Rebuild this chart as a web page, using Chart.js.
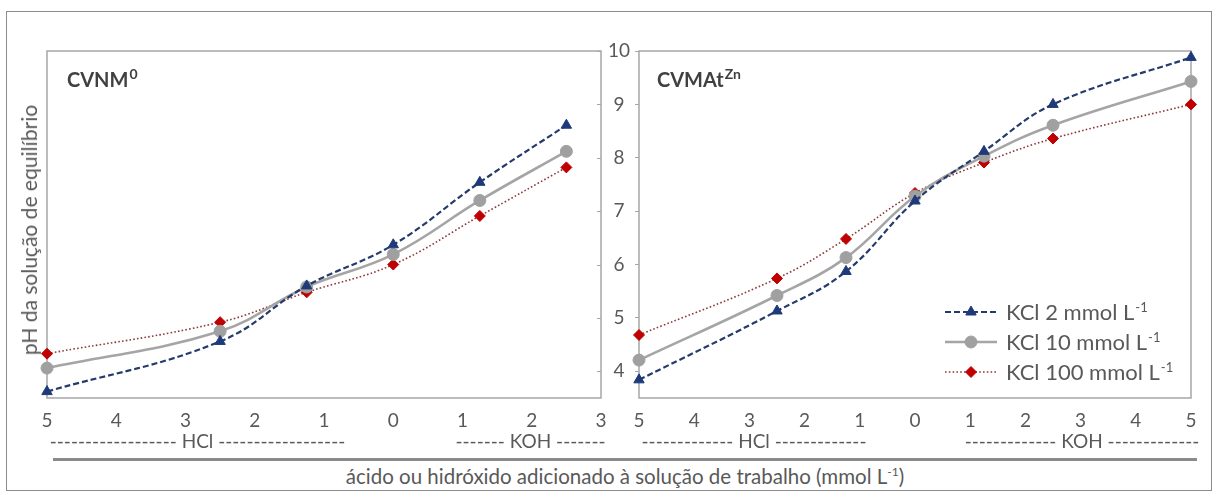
<!DOCTYPE html>
<html><head><meta charset="utf-8">
<script src="https://cdn.jsdelivr.net/npm/chart.js@4.4.1/dist/chart.umd.min.js"></script>
<style>
html,body{margin:0;padding:0;background:#fff;width:1219px;height:496px;overflow:hidden;font-family:Lato,'Open Sans',sans-serif;color:#595959}
#frame{position:absolute;left:6px;top:11px;width:1206px;height:480px;border:1.5px solid #8c8c8c;box-sizing:border-box}
canvas{position:absolute;top:0}
#cL{left:0}
#cR{left:600px}
.t{position:absolute;white-space:nowrap;color:#595959;line-height:22px}
.ttl{position:absolute;white-space:nowrap;font-weight:700;font-size:20px;line-height:20px;color:#404040}
.ttl sup{font-size:14px;vertical-align:baseline;position:relative;top:-8px;margin-left:1px}
.sup{font-size:12px;vertical-align:baseline;position:relative;top:-8px}
#sep{position:absolute;left:53px;top:458px;width:1144px;height:3px;background:#8a8a8a}
</style></head>
<body>
<div id="frame"></div>
<canvas id="cL" width="640" height="440"></canvas>
<canvas id="cR" width="619" height="440"></canvas>
<div class="ttl" style="left:67px;top:69px">CVNM<sup>0</sup></div>
<div class="ttl" style="left:657px;top:69px">CVMAt<sup>Zn</sup></div>
<div class="t" id="ytitle" style="left:29px;top:230px;font-size:21px;transform:translate(-50%,-50%) rotate(-90deg)">pH da solução de equilíbrio</div>
<div id="sep"></div>
<div class="t" id="xtitle" style="left:625px;top:465px;font-size:20.5px;transform:translateX(-50%)">ácido ou hidróxido adicionado à solução de trabalho (mmol L<span class="sup">-1</span>)</div>
<script>
// ---------------- data ----------------
const seriesNames = ['KCl 2 mmol L', 'KCl 10 mmol L', 'KCl 100 mmol L'];
const unitSup = '-1';

// x position: negative = HCl added, positive = KOH added (mmol L-1)
const leftX  = [-5, -2.5, -1.25, 0, 1.25, 2.5];
const leftKCl2   = [3.62, 4.56, 5.60, 6.37, 7.54, 8.61];
const leftKCl10  = [4.06, 4.75, 5.58, 6.19, 7.20, 8.12];
const leftKCl100 = [4.33, 4.92, 5.48, 6.00, 6.91, 7.82];

const rightX = [-5, -2.5, -1.25, 0, 1.25, 2.5, 5];
const rightKCl2   = [3.84, 5.13, 5.87, 7.19, 8.12, 9.00, 9.88];
const rightKCl10  = [4.21, 5.42, 6.13, 7.28, 8.03, 8.61, 9.43];
const rightKCl100 = [4.68, 5.74, 6.48, 7.34, 7.91, 8.36, 9.00];

const leftXTickLabels  = ['5','4','3','2','1','0','1','2','3'];
const rightXTickLabels = ['5','4','3','2','1','0','1','2','3','4','5'];
const yTicks = [4, 5, 6, 7, 8, 9, 10];

const groupLabels = ['HCl', 'KOH'];

// ---------------- styles ----------------
Chart.defaults.font.family = 'Lato';
Chart.defaults.color = '#595959';
const styles = [
  {borderColor:'#243b6b', borderWidth:2.2, borderDash:[6,3], pointStyle:'triangle', pointRadius:6, pointBackgroundColor:'#1f3a7a', pointBorderColor:'#1f3a7a'},
  {borderColor:'#a5a5a5', borderWidth:2.6, borderDash:[], pointStyle:'circle', pointRadius:6, pointBackgroundColor:'#a0a0a0', pointBorderColor:'#a0a0a0'},
  {borderColor:'#8b3a3a', borderWidth:1.6, borderDash:[1.6,2.2], pointStyle:'rectRot', pointRadius:5.5, pointBackgroundColor:'#c00000', pointBorderColor:'#c00000'}
];
function mk(xs, ys, i){
  return Object.assign({
    label: seriesNames[i] + '⁻¹',
    data: xs.map((x, k) => ({x: x, y: ys[k]})),
    tension: 0.4, clip: false, pointBorderWidth: 1, fill: false
  }, styles[i]);
}

const boxPlugin = {
  id: 'box',
  beforeDatasetsDraw(chart, args, opts){
    const {ctx, chartArea: a} = chart;
    ctx.save();
    ctx.strokeStyle = '#a6a6a6'; ctx.lineWidth = 1.5;
    ctx.strokeRect(a.left, a.top, a.right - a.left, a.bottom - a.top);
    if (opts.innerTicksRight){
      const ys = chart.scales.y;
      ctx.lineWidth = 1;
      ys.ticks.forEach(t => {
        const py = Math.round(ys.getPixelForValue(t.value)) + 0.5;
        ctx.beginPath(); ctx.moveTo(a.right - 4, py); ctx.lineTo(a.right, py); ctx.stroke();
      });
    }
    ctx.restore();
  }
};

const legendPlugin = {
  id: 'legendBox',
  afterDatasetsDraw(chart, args, opts){
    if (!opts.show) return;
    const ctx = chart.ctx;
    chart.data.datasets.forEach((ds, i) => {
      const y = opts.y0 + i * opts.dy;
      ctx.save();
      ctx.strokeStyle = ds.borderColor; ctx.lineWidth = ds.borderWidth;
      ctx.setLineDash(ds.borderDash || []);
      ctx.beginPath(); ctx.moveTo(opts.x0, y); ctx.lineTo(opts.x1, y); ctx.stroke();
      ctx.setLineDash([]);
      ctx.fillStyle = ds.pointBackgroundColor; ctx.strokeStyle = ds.pointBorderColor; ctx.lineWidth = 1;
      Chart.helpers.drawPoint(ctx, {pointStyle: ds.pointStyle, radius: ds.pointRadius, borderWidth: 1, rotation: 0}, (opts.x0 + opts.x1) / 2, y);
      ctx.fillStyle = '#595959';
      ctx.textBaseline = 'alphabetic'; ctx.textAlign = 'left';
      ctx.font = opts.fontSize + 'px Lato';
      ctx.fillText(seriesNames[i], opts.tx, y + opts.baseOff);
      const w = ctx.measureText(seriesNames[i]).width;
      ctx.font = opts.supSize + 'px Lato';
      ctx.fillText(unitSup, opts.tx + w + 1, y + opts.baseOff - opts.supRise);
      ctx.restore();
    });
  }
};

function yTickSetter(scale){ scale.ticks = yTicks.map(v => ({value: v})); }

new Chart(document.getElementById('cL'), {
  type: 'line',
  data: {datasets: [mk(leftX, leftKCl2, 0), mk(leftX, leftKCl10, 1), mk(leftX, leftKCl100, 2)]},
  options: {
    responsive: false, animation: false, devicePixelRatio: 1,
    layout: {padding: {left: 47, top: 51, right: 39, bottom: 10}},
    plugins: {legend: {display: false}, tooltip: {enabled: false}, box: {innerTicksRight: true}, legendBox: {show: false}},
    scales: {
      x: {type: 'linear', min: -5, max: 3,
          ticks: {stepSize: 1, font: {size: 19}, padding: 3, callback: (v, i) => leftXTickLabels[i]},
          grid: {display: false}, border: {display: false},
          afterFit: s => { s.height = 32; }},
      y: {type: 'linear', position: 'right', min: 3.5, max: 10,
          ticks: {display: false}, grid: {display: false}, border: {display: false},
          afterBuildTicks: yTickSetter, afterFit: s => { s.width = 0; }}
    }
  },
  plugins: [boxPlugin, legendPlugin]
});

new Chart(document.getElementById('cR'), {
  type: 'line',
  data: {datasets: [mk(rightX, rightKCl2, 0), mk(rightX, rightKCl10, 1), mk(rightX, rightKCl100, 2)]},
  options: {
    responsive: false, animation: false, devicePixelRatio: 1,
    layout: {padding: {left: 0, top: 51, right: 28, bottom: 10}},
    plugins: {legend: {display: false}, tooltip: {enabled: false}, box: {innerTicksRight: false},
      legendBox: {show: true, x0: 345, x1: 397, tx: 406, y0: 312, dy: 30, fontSize: 22, supSize: 13, baseOff: 8, supRise: 8}},
    scales: {
      x: {type: 'linear', min: -5, max: 5,
          ticks: {stepSize: 1, font: {size: 19}, padding: 3, callback: (v, i) => rightXTickLabels[i]},
          grid: {display: false}, border: {display: false},
          afterFit: s => { s.height = 32; }},
      y: {type: 'linear', position: 'left', min: 3.5, max: 10,
          ticks: {font: {size: 19}, padding: 5, crossAlign: 'center'},
          grid: {display: true, drawOnChartArea: false, drawTicks: true, tickLength: 4, color: '#a6a6a6', lineWidth: 1},
          border: {display: false},
          afterBuildTicks: yTickSetter, afterFit: s => { s.width = 39; }}
    }
  },
  plugins: [boxPlugin, legendPlugin]
});

// ---------------- dashed group rows under the x axes ----------------
const rows = [
  {label: groupLabels[0], from: 53, to: 342},
  {label: groupLabels[1], from: 458, to: 603},
  {label: groupLabels[0], from: 640, to: 868},
  {label: groupLabels[1], from: 967, to: 1197}
];
const rowFont = 19;
const mctx = document.createElement('canvas').getContext('2d');
mctx.font = rowFont + 'px Lato';
const dashW = mctx.measureText('-').width, spW = mctx.measureText(' ').width;
rows.forEach(r => {
  const lw = mctx.measureText(r.label).width;
  const n = Math.max(1, Math.round(((r.to - r.from) - lw - 2 * spW) / 2 / dashW));
  const d = document.createElement('div');
  d.className = 't';
  d.style.fontSize = rowFont + 'px';
  d.style.left = ((r.from + r.to) / 2) + 'px';
  d.style.top = '430px';
  d.style.transform = 'translateX(-50%)';
  d.textContent = '-'.repeat(n) + ' ' + r.label + ' ' + '-'.repeat(n);
  document.body.appendChild(d);
});
</script>
</body></html>
